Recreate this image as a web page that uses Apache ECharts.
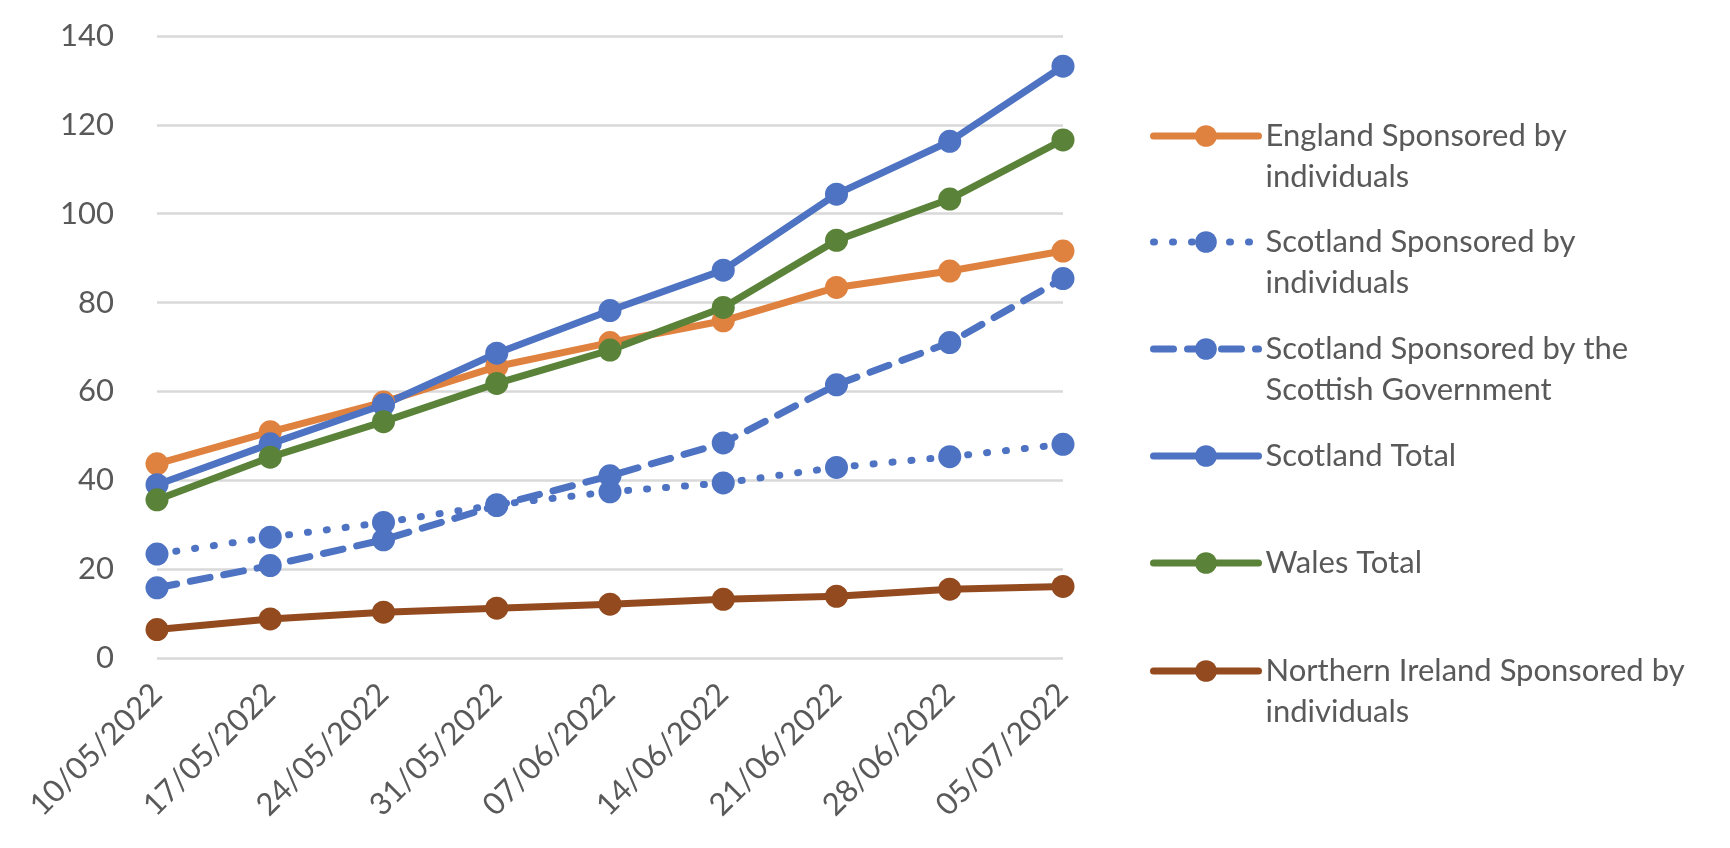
<!DOCTYPE html>
<html>
<head>
<meta charset="utf-8">
<script src="https://cdn.jsdelivr.net/npm/echarts@6/dist/echarts.min.js"></script>
<style>
  html, body { margin: 0; padding: 0; background: #fff; }
  #main { width: 1730px; height: 848px; }
</style>
</head>
<body>
<div id="main"></div>
<script>
// data
const dates = ['10/05/2022', '17/05/2022', '24/05/2022', '31/05/2022', '07/06/2022',
  '14/06/2022', '21/06/2022', '28/06/2022', '05/07/2022'];

const englandIndividuals = [43.7, 50.9, 57.6, 65.6, 71.0, 75.9, 83.4, 87.1, 91.6];
const scotlandIndividuals = [23.4, 27.2, 30.5, 34.5, 37.4, 39.4, 42.9, 45.3, 48.1];
const scotlandGovernment = [15.8, 20.8, 26.6, 34.3, 41.0, 48.4, 61.5, 71.0, 85.4];
const scotlandTotal = [39.0, 48.2, 57.0, 68.6, 78.2, 87.3, 104.4, 116.3, 133.2];
const walesTotal = [35.6, 45.2, 53.2, 61.8, 69.3, 78.9, 94.0, 103.3, 116.6];
const niIndividuals = [6.4, 8.8, 10.3, 11.2, 12.1, 13.2, 13.9, 15.5, 16.1];

const seriesNames = ['England Sponsored by individuals', 'Scotland Sponsored by individuals',
  'Scotland Sponsored by the Scottish Government', 'Scotland Total', 'Wales Total',
  'Northern Ireland Sponsored by individuals'];
const legendLabels = ['England Sponsored by\nindividuals', 'Scotland Sponsored by\nindividuals',
  'Scotland Sponsored by the\nScottish Government', 'Scotland Total', 'Wales Total',
  'Northern Ireland Sponsored by\nindividuals'];
const yTicks = [0, 20, 40, 60, 80, 100, 120, 140];

const seriesData = [englandIndividuals, scotlandIndividuals, scotlandGovernment,
  scotlandTotal, walesTotal, niIndividuals];
const colors = ['#E0823F', '#4E73C2', '#4E73C2', '#4E73C2', '#5A8239', '#934A1F'];
const lineTypes = ['solid', [1, 18], [20, 14], 'solid', 'solid', 'solid'];

const font = 'Lato';
const fontSize = 31;
const lineH = 41;
const legendCenters = [136, 242, 349, 456, 563, 671];

let chart = echarts.init(document.getElementById('main'));

const legends = seriesNames.map(function (name, i) {
  const twoLines = legendLabels[i].indexOf('\n') >= 0;
  // leading blank line so the icon sits level with the first text line
  const text = twoLines ? '\n' + legendLabels[i] : legendLabels[i];
  const h = twoLines ? lineH * 3 : lineH;
  return {
    orient: 'vertical',
    left: 1150,
    top: legendCenters[i] - h / 2,
    padding: 0,
    itemWidth: 105,
    itemHeight: 27,
    data: [name],
    formatter: function () { return text; },
    lineStyle: { width: 7, cap: 'round' },
    textStyle: { fontFamily: font, fontSize: fontSize, color: '#595959', lineHeight: lineH, padding: [0, 0, 0, 2] },
    selectedMode: false
  };
});

const option = {
  backgroundColor: '#fff',
  animation: false,
  color: colors,
  grid: { left: 157, right: 667, top: 36, bottom: 190 },
  legend: legends,
  xAxis: {
    type: 'category',
    data: dates,
    boundaryGap: false,
    axisLine: { show: false },
    axisTick: { show: false },
    axisLabel: { rotate: 45, fontFamily: font, fontSize: fontSize, color: '#595959', margin: 31, interval: 0 }
  },
  yAxis: {
    type: 'value',
    min: yTicks[0],
    max: yTicks[yTicks.length - 1],
    interval: 20,
    axisLine: { show: false },
    axisTick: { show: false },
    axisLabel: { fontFamily: font, fontSize: fontSize, color: '#595959', margin: 43 },
    splitLine: { lineStyle: { color: '#D9D9D9', width: 2.5 } }
  },
  series: seriesNames.map(function (name, i) {
    return {
      name: name,
      type: 'line',
      data: seriesData[i],
      symbol: 'circle',
      symbolSize: 23,
      showAllSymbol: true,
      itemStyle: { color: colors[i] },
      lineStyle: { color: colors[i], width: 7, type: lineTypes[i], cap: 'round' }
    };
  })
};

chart.setOption(option);
</script>
</body>
</html>
